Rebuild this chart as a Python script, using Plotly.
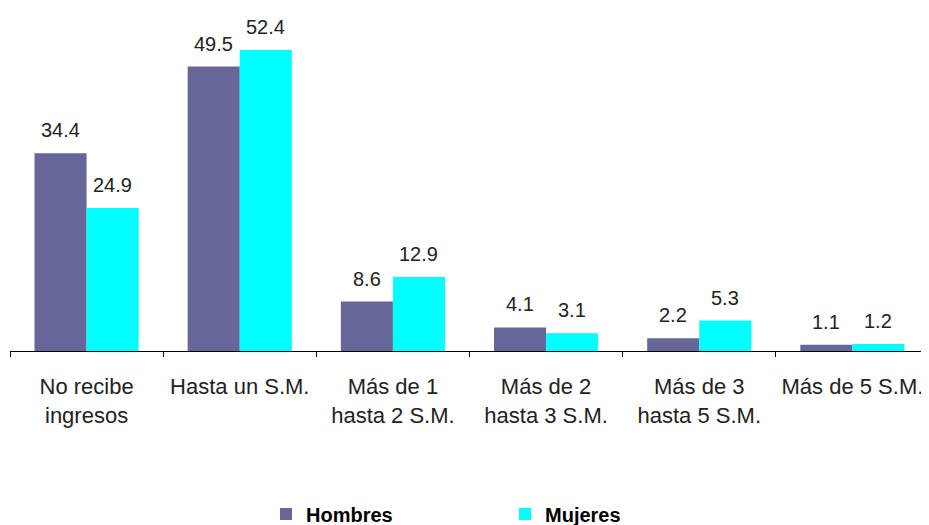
import plotly.graph_objects as go

# Categories and values
categorias = [
    "No recibe<br>ingresos",
    "Hasta un S.M.",
    "Más de 1<br>hasta 2 S.M.",
    "Más de 2<br>hasta 3 S.M.",
    "Más de 3<br>hasta 5 S.M.",
    "Más de 5 S.M.",
]
hombres = [34.4, 49.5, 8.6, 4.1, 2.2, 1.1]
mujeres = [24.9, 52.4, 12.9, 3.1, 5.3, 1.2]

fuente = "Liberation Sans, Arial, sans-serif"
color_h = "#666699"
color_m = "#00FFFF"

fig = go.Figure()
fig.add_trace(go.Bar(x=categorias, y=hombres, name="Hombres",
                     marker=dict(color=color_h, line=dict(width=0))))
fig.add_trace(go.Bar(x=categorias, y=mujeres, name="Mujeres",
                     marker=dict(color=color_m, line=dict(width=0))))

# value labels, lifted a bit above each bar like in the original
media_barra = 26  # half of a bar width in px
for serie, desplaz in ((hombres, -media_barra), (mujeres, media_barra)):
    for cat, v in zip(categorias, serie):
        fig.add_annotation(x=cat, y=v, text=f"{v:.1f}", showarrow=False,
                           xshift=desplaz, yshift=10, yanchor="bottom",
                           font=dict(size=20, color="#222222", family=fuente))

# the page body adds an 8px offset, margins below account for it
fig.update_layout(
    width=929, height=525,
    margin=dict(l=2, r=8, t=0, b=182, autoexpand=False),
    paper_bgcolor="white", plot_bgcolor="white",
    barmode="group", bargap=0.32, bargroupgap=0,
    font=dict(family=fuente, size=22, color="#222222"),
    showlegend=True,
    legend=dict(
        orientation="h", x=(258 - 2) / 919, xanchor="left",
        yref="container", y=(525 - 506) / 525, yanchor="middle",
        entrywidth=194, entrywidthmode="pixels",
        font=dict(size=20, color="#000000", family=fuente, weight="bold"),
    ),
)
fig.update_xaxes(
    automargin=False,
    showline=True, linecolor="#000000", linewidth=1,
    ticks="outside", tickson="boundaries", ticklen=5, tickcolor="#000000",
    tickfont=dict(size=22, color="#222222"), ticklabelstandoff=16,
    showgrid=False,
)
fig.update_yaxes(range=[0, 59.7], visible=False, showgrid=False)

fig.write_html("out.html")
